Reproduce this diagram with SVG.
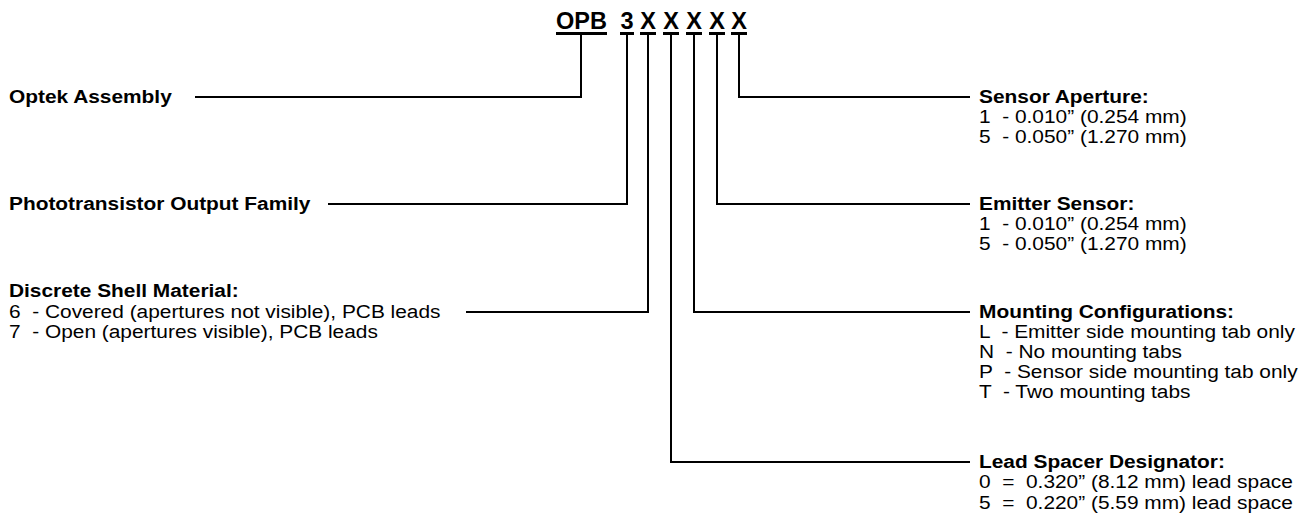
<svg xmlns="http://www.w3.org/2000/svg" width="1307" height="523" viewBox="0 0 1307 523">
<style>
text{font-family:"Liberation Sans",Arial,sans-serif;fill:#000;white-space:pre}
.b{font-weight:bold;font-size:18px}
.r{font-size:18px}
.t{font-weight:bold;font-size:23.5px}
.c{fill:none;stroke:#000;stroke-width:2}
.u{stroke:#000;stroke-width:3}
</style>
<rect width="1307" height="523" fill="#fff"/>
<g id="title">
<text class="t" x="556" y="29">OPB</text>
<text class="t" x="620.5" y="29">3</text>
<text class="t" x="640.2" y="29">X</text>
<text class="t" x="663.2" y="29">X</text>
<text class="t" x="686.2" y="29">X</text>
<text class="t" x="709.2" y="29">X</text>
<text class="t" x="731.2" y="29">X</text>
<line class="u" x1="556" y1="33.5" x2="607" y2="33.5"/>
<line class="u" x1="620" y1="33.5" x2="634" y2="33.5"/>
<line class="u" x1="640" y1="33.5" x2="656" y2="33.5"/>
<line class="u" x1="663" y1="33.5" x2="679" y2="33.5"/>
<line class="u" x1="686" y1="33.5" x2="702" y2="33.5"/>
<line class="u" x1="709" y1="33.5" x2="725" y2="33.5"/>
<line class="u" x1="731" y1="33.5" x2="747" y2="33.5"/>
</g>
<g id="connectors">
<polyline class="c" points="581,35 581,97 195,97"/>
<polyline class="c" points="627,35 627,204 328,204"/>
<polyline class="c" points="648,35 648,312 466,312"/>
<polyline class="c" points="671,35 671,462 970,462"/>
<polyline class="c" points="694,35 694,312 970,312"/>
<polyline class="c" points="717,35 717,204 970,204"/>
<polyline class="c" points="739,35 739,97 970,97"/>
</g>
<g id="optek-assembly" transform="translate(9,0) scale(1.16,1)">
<text class="b" x="0" y="103">Optek Assembly</text>
</g>
<g id="phototransistor-family" transform="translate(9,0) scale(1.16,1)">
<text class="b" x="0" y="210">Phototransistor Output Family</text>
</g>
<g id="shell-material" transform="translate(9,0) scale(1.16,1)">
<text class="b" x="0" y="297">Discrete Shell Material:</text>
<text class="r" x="0" y="318">6  - Covered (apertures not visible), PCB leads</text>
<text class="r" x="0" y="338">7  - Open (apertures visible), PCB leads</text>
</g>
<g id="sensor-aperture" transform="translate(979,0) scale(1.16,1)">
<text class="b" x="0" y="103">Sensor Aperture:</text>
<text class="r" x="0" y="123">1  - 0.010” (0.254 mm)</text>
<text class="r" x="0" y="143">5  - 0.050” (1.270 mm)</text>
</g>
<g id="emitter-sensor" transform="translate(979,0) scale(1.16,1)">
<text class="b" x="0" y="210">Emitter Sensor:</text>
<text class="r" x="0" y="230">1  - 0.010” (0.254 mm)</text>
<text class="r" x="0" y="250">5  - 0.050” (1.270 mm)</text>
</g>
<g id="mounting" transform="translate(979,0) scale(1.16,1)">
<text class="b" x="0" y="318">Mounting Configurations:</text>
<text class="r" x="0" y="338">L  - Emitter side mounting tab only</text>
<text class="r" x="0" y="358">N  - No mounting tabs</text>
<text class="r" x="0" y="378">P  - Sensor side mounting tab only</text>
<text class="r" x="0" y="398">T  - Two mounting tabs</text>
</g>
<g id="lead-spacer" transform="translate(979,0) scale(1.16,1)">
<text class="b" x="0" y="468">Lead Spacer Designator:</text>
<text class="r" x="0" y="488.5">0  =  0.320” (8.12 mm) lead space</text>
<text class="r" x="0" y="509">5  =  0.220” (5.59 mm) lead space</text>
</g>
</svg>
